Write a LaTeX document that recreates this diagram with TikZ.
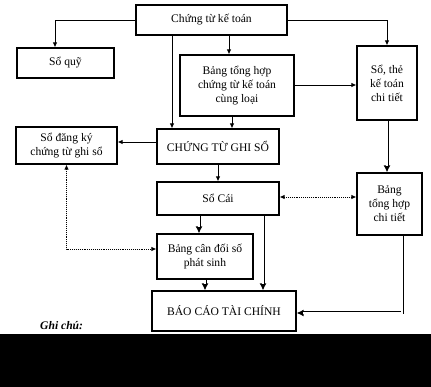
\documentclass[tikz,border=0pt]{standalone}
\usepackage{fontspec}
\setmainfont{Liberation Serif}
\usetikzlibrary{arrows.meta,calc}
\begin{document}
\begin{tikzpicture}[x=1pt,y=-1pt,
  box/.style={draw,line width=1.1pt,rectangle,align=center,inner sep=1pt,font=\fontsize{11.6}{14}\selectfont},
  arr/.style={line width=0.9pt,-{Latex[length=5pt,width=4.5pt]}},
  dbl/.style={line width=3pt,-{Latex[length=7pt,width=7pt]},
    postaction={draw=white,line width=1.2pt,-,shorten >=6.5pt,shorten <=0.8pt}},
  dot/.style={densely dotted,line width=0.9pt},
  bothtips/.style={{Latex[length=5pt,width=4.5pt]}-{Latex[length=5pt,width=4.5pt]}}]
\useasboundingbox (0,0) rectangle (431,387);
\fill[white] (0,0) rectangle (431,334);
\fill[black] (0,334) rectangle (431,387);

\node[box,minimum width=151pt,minimum height=30pt] (ctkt) at (211.5,20) {Chứng từ kế toán};
\node[box,minimum width=97pt,minimum height=30pt] (soquy) at (65.5,63) {Sổ quỹ};
\node[box,minimum width=114pt,minimum height=61pt] (bth) at (237,85.5) {Bảng tổng hợp\\chứng từ kế toán\\cùng loại};
\node[box,minimum width=60pt,minimum height=74pt] (sothe) at (387,83) {Sổ, thẻ\\kế toán\\chi tiết};
\node[box,minimum width=122pt,minimum height=35pt] (ctgs) at (218,146.5) {CHỨNG TỪ GHI SỔ};
\node[box,minimum width=101pt,minimum height=37pt] (sodk) at (66.5,145.5) {Sổ đăng ký\\chứng từ ghi sổ};
\node[box,minimum width=122pt,minimum height=33pt] (socai) at (218,198.5) {Sổ Cái};
\node[box,minimum width=65pt,minimum height=62pt] (bthct) at (389.5,204) {Bảng\\tổng hợp\\chi tiết};
\node[box,minimum width=96pt,minimum height=45pt] (bcd) at (205,256.5) {Bảng cân đối số\\phát sinh};
\node[box,minimum width=144pt,minimum height=40pt] (bctc) at (224,311) {BÁO CÁO TÀI CHÍNH};
\node[font=\fontsize{11.6}{13}\selectfont\bfseries\itshape,anchor=base west,inner sep=0pt] (gc) at (40,330) {Ghi chú:};

\coordinate (q1) at ([xshift=-10.5pt]soquy.north);
\coordinate (p1) at ([xshift=-39.5pt]ctkt.south);
\coordinate (p2) at ([xshift=-8pt]bth.north);
\coordinate (p3) at ([xshift=-5pt]bth.south);
\coordinate (p4) at ([yshift=4.5pt]ctgs.west);
\coordinate (p5) at ([xshift=-6pt]bcd.north);
\coordinate (p6) at ([xshift=39pt]bctc.north);
\coordinate (p7) at ([xshift=12.5pt]bthct.south);
\coordinate (p8) at ([yshift=7.5pt]bcd.west);
\coordinate (p9) at ([yshift=1.5pt]socai.east);
\coordinate (p10) at ([yshift=-2pt]bctc.east);
\coordinate (p11) at ([yshift=0.5pt]bth.east);

\draw[arr] (ctkt.west) -| (q1);
\draw[arr] (p1) -- (p1 |- ctgs.north);
\draw[arr] (p2 |- ctkt.south) -- (p2);
\draw[arr] (ctkt.east) -| (sothe.north);
\draw[arr] (p11) -- (p11 -| sothe.west);
\draw[arr] (p3) -- (p3 |- ctgs.north);
\draw[arr] (p4) -- (p4 -| sodk.east);
\draw[arr] (ctgs.south) -- (socai.north);
\draw[dbl] (p5 |- socai.south) -- (p5);
\draw[dbl] (p6 |- socai.south) -- (p6);
\draw[dbl] (bcd.south) -- (bcd.south |- bctc.north);
\draw[dbl] (sothe.south) -- (sothe.south |- bthct.north);
\draw[dbl] (p7) |- (p10);
\draw[dot,bothtips] (p9) -- (p9 -| bthct.west);
\draw[dot,bothtips] (sodk.south) |- (p8);
\end{tikzpicture}
\end{document}
